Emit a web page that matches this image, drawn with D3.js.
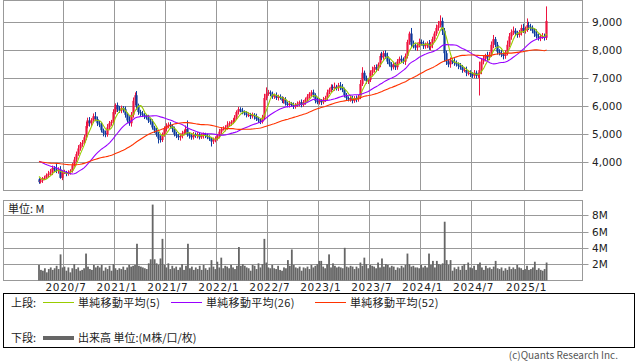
<!DOCTYPE html>
<html>
<head>
<meta charset="utf-8">
<script src="https://cdn.jsdelivr.net/npm/d3@7"></script>
<style>
  body { margin: 0; background: #fff; }
  svg { display: block; }
</style>
</head>
<body>
<script>
// weekly candles, first week of the chart
const firstWeek = "2020-04-06";

// closes before the first visible week, read back from where the 26/52 averages start
const priorCloses = [
  3900,3950,4000,4050,4000,3950,3900,3850,3900,3950,4000,4050,4100,4050,4000,3950,4000,4050,4100,4150,4100,4050,4000,4050,4100,4150,
  4200,4250,4300,4350,4300,4250,4300,4350,4400,4450,4400,4350,4400,4350,4300,4350,
  4200,3900,3500,3300,3500,3700,3600,3500,3400
];

// weekly closes (yen)
const closes = [
  3300,3350,3430,3450,3550,3600,3650,3800,3750,3700,
  3750,3450,3650,3650,3600,3650,3700,3900,4100,4300,
  4500,4650,4700,4900,5300,5500,5400,5500,5650,5550,
  5400,5350,5150,5050,5000,5250,5400,5450,5800,6050,
  5900,5850,5950,5900,5700,5500,5400,5700,6200,6400,
  6000,5800,5750,
  5700,5650,5600,5500,5450,5250,5150,5000,4850,4800,
  5000,5200,5300,5350,5300,5200,5000,4950,4900,4950,
  5050,5100,5200,5000,4950,4900,5000,4950,5000,4900,
  4950,5000,4950,4900,4850,4750,4800,4850,4950,5100,
  5200,5200,5250,5350,5400,5450,5500,5600,5800,5900,
  5850,
  5800,5750,5700,5700,5650,5700,5650,5550,5500,5450,
  5600,6300,6450,6500,6450,6350,6400,6300,6350,6300,
  6200,6250,6100,6050,6100,6050,6000,6050,6100,6150,
  6050,6150,6250,6350,6450,6500,6400,6200,6150,6200,
  6150,6250,6300,6500,6600,6700,6650,6700,6650,6750,
  6700,
  6600,6400,6300,6250,6300,6200,6300,6250,6350,6800,
  7200,7000,6900,6950,7200,7300,7400,7350,7500,7800,
  7750,7900,7800,7600,7500,7400,7500,7400,7600,7700,
  7650,7600,7800,8300,8600,8200,8150,8100,8200,8300,
  8250,8150,8200,8250,8100,8200,8400,8600,8800,
  8900,
  9050,8700,7900,7600,7500,7650,7600,7550,7500,7450,
  7400,7300,7300,7200,7200,7150,7100,7200,7100,7150,
  7300,7600,7700,7800,7750,7850,8200,8400,8200,7950,
  7900,7850,7800,7900,8200,8500,8650,8700,8600,8550,
  8650,8800,8700,8750,8900,8850,8800,8700,8600,8500,
  8450,
  8500,
  8500,8450,9050
];

// upper shadow above the body and lower shadow below it (yen)
const wickHi = [
  40,60,50,80,60,100,120,90,70,210,
  80,120,60,90,50,70,60,80,100,90,
  120,80,100,90,150,100,120,80,100,150,
  90,80,100,60,90,120,80,70,100,60,
  90,120,80,60,100,80,150,100,120,100,
  150,100,80,90,60,80,100,70,90,60,
  80,100,120,70,90,100,80,90,60,80,
  100,70,90,80,60,120,300,80,60,90,
  70,80,60,90,70,60,80,70,60,90,
  80,70,100,60,90,80,120,70,60,80,
  90,60,80,70,100,60,80,90,70,80,
  60,90,80,70,100,150,230,90,70,80,
  60,100,70,80,60,90,80,70,100,60,
  90,70,80,60,100,80,70,90,60,80,
  100,70,120,80,60,90,80,100,70,90,
  80,150,70,90,120,100,70,80,60,90,
  80,70,90,60,150,200,80,100,70,90,
  120,80,100,70,90,150,80,100,120,90,
  80,100,70,90,80,120,100,90,80,70,
  200,150,100,80,120,90,100,80,70,120,
  100,90,80,120,150,200,120,100,90,80,
  100,80,120,90,70,100,80,90,120,80,
  90,70,100,80,60,300,120,100,80,150,
  100,120,150,80,100,90,120,80,100,150,
  120,100,150,90,100,80,120,150,100,240,
  120,100,90,80,150,100,90,120,100,520
];
const wickLo = [
  60,50,80,60,40,80,60,100,90,80,
  100,30,80,60,90,70,80,60,50,80,
  60,80,90,70,100,80,120,100,90,80,
  100,90,80,120,100,80,70,90,60,80,
  100,80,90,120,100,80,90,120,100,150,
  120,100,90,80,100,70,90,100,80,100,
  80,170,90,70,80,100,80,90,120,70,
  80,100,120,90,80,70,80,100,90,80,
  70,90,80,60,100,80,70,80,180,90,
  80,70,90,80,60,90,80,70,90,80,
  70,80,90,60,80,70,90,80,100,80,
  120,70,90,80,60,90,80,70,90,80,
  80,70,90,60,80,100,70,80,90,70,
  90,80,70,100,80,60,90,80,70,100,
  80,90,70,80,100,70,90,80,60,90,
  70,90,80,100,120,90,80,100,70,80,
  90,70,100,80,90,70,80,90,100,80,
  100,90,120,80,100,90,80,100,90,80,
  120,80,100,90,70,100,80,120,90,100,
  90,80,100,120,90,80,100,90,120,80,
  100,120,90,80,100,80,150,300,120,100,
  120,90,100,80,120,90,100,80,120,90,
  100,80,90,100,80,760,150,100,90,120,
  100,80,120,90,100,80,90,120,100,80,
  90,120,100,80,100,90,120,80,100,90,
  120,100,90,120,80,100,120,90,100,80
];

// weekly volume (million shares)
const volumes = [
  1.9,1.3,1.2,1.5,1.0,1.4,1.6,1.3,1.5,1.8,
  1.4,3.2,1.6,1.7,1.2,1.6,1.0,1.5,2.0,1.4,
  1.6,1.2,1.3,1.5,3.3,1.7,1.4,1.3,1.9,1.6,
  1.8,1.6,1.9,1.2,1.6,1.4,1.8,1.2,2.0,1.5,
  1.3,1.5,1.4,1.7,1.3,1.6,1.9,1.7,1.8,1.9,
  4.5,1.8,1.7,
  1.6,1.5,1.4,2.1,2.6,9.3,2.6,2.1,1.9,2.7,
  5.1,1.9,1.6,2.1,1.4,1.8,1.5,1.7,1.3,1.6,
  2.0,1.3,1.8,4.5,1.5,1.7,1.3,1.6,1.4,1.8,
  1.3,1.9,1.5,1.3,1.6,2.5,1.7,1.4,2.3,1.6,
  2.8,1.5,1.8,1.7,1.5,1.9,1.6,1.4,1.8,4.1,
  1.8,
  2.0,1.8,1.6,1.5,1.2,1.9,1.8,1.4,2.1,1.6,
  2.0,5.1,2.2,1.6,1.5,1.9,1.5,1.4,1.8,1.3,
  1.2,1.6,1.5,2.5,1.8,3.8,1.9,1.6,1.5,1.7,
  1.2,1.6,1.5,1.7,1.4,1.9,1.6,1.8,2.0,2.4,
  2.4,1.7,1.5,2.0,3.2,1.6,2.1,1.8,1.6,1.7,
  1.6,
  1.5,4.0,1.7,1.6,1.8,1.7,1.4,1.7,1.5,2.2,
  1.8,2.8,2.0,1.5,1.9,1.8,1.7,1.5,2.2,1.6,
  2.7,1.7,2.0,1.9,1.6,1.8,1.7,1.3,1.6,1.5,
  1.8,1.6,1.9,3.3,2.0,1.7,1.8,1.6,1.6,1.5,
  1.9,1.6,1.8,1.6,3.3,1.9,2.4,1.6,2.4,
  2.0,
  1.9,2.1,7.2,2.5,1.9,2.5,1.2,1.6,1.4,1.7,
  1.3,1.8,2.0,1.3,2.2,1.6,1.5,1.8,1.3,2.0,
  2.2,1.6,1.3,1.8,1.5,1.6,1.4,1.7,2.4,1.5,
  1.4,1.6,1.2,1.5,1.3,1.7,1.4,1.6,1.4,1.9,
  1.6,1.5,1.3,1.4,1.8,1.3,1.4,1.6,2.3,1.3,
  1.5,
  1.3,
  1.2,1.4,2.2
];

const priceTicks = [4000, 5000, 6000, 7000, 8000, 9000];
const volumeTicks = [2, 4, 6, 8];
const monthLabels = ["2020/7", "2021/1", "2021/7", "2022/1", "2022/7", "2023/1", "2023/7", "2024/1", "2024/7", "2025/1"];
const maPeriods = [5, 26, 52];
const maNames = ["単純移動平均(5)", "単純移動平均(26)", "単純移動平均(52)"];
const maColors = ["#99cc00", "#9900ff", "#ff3300"];

const width = 638;
const height = 362;
const jp = '"Noto Sans CJK JP", "DejaVu Sans", sans-serif';
const num = '"DejaVu Sans", sans-serif';
const gridColor = "#999";
const upColor = "#ee1440";
const downColor = "#0e3c9e";

// build the week records
const parseDay = d3.timeParse("%Y-%m-%d");
const parseMonth = d3.timeParse("%Y/%m");
const start = parseDay(firstWeek);
const allCloses = priorCloses.concat(closes);
const n = Math.min(closes.length, wickHi.length, wickLo.length, volumes.length);
const weeks = d3.range(n).map((i) => {
  const open = allCloses[priorCloses.length + i - 1];
  const close = closes[i];
  return {
    i,
    date: d3.timeWeek.offset(start, i),
    open,
    close,
    high: Math.max(open, close) + wickHi[i],
    low: Math.min(open, close) - wickLo[i],
    volume: volumes[i]
  };
});

// simple moving average using the earlier closes too
function sma(period) {
  return weeks.map((w) => {
    const j = priorCloses.length + w.i;
    return { i: w.i, value: d3.mean(allCloses.slice(j - period + 1, j + 1)) };
  });
}

const svg = d3.select("body")
  .append("svg")
  .attr("width", width)
  .attr("height", height);

const x = d3.scaleLinear()
  .domain([0, 259])
  .range([38.5, 546.1]);

const y = d3.scaleLinear()
  .domain([3000, 9780])
  .range([190.5, 0.5]);

const yv = d3.scaleLinear()
  .domain([0, 9.8])
  .range([280.5, 200.5]);

const left = 3.5;
const right = 582.5;

// month grid: first week whose monday falls in that month
const monthWeeks = monthLabels.map((label) => {
  const m = parseMonth(label);
  const w = weeks.find((d) => d.date >= m);
  return { label, i: w.i };
});

function drawGrid(yScale, ticks, top, bottom, fmt) {
  svg.append("g")
    .selectAll("line")
    .data(monthWeeks)
    .join("line")
    .attr("x1", (d) => Math.round(x(d.i - 0.5)) + 0.5)
    .attr("x2", (d) => Math.round(x(d.i - 0.5)) + 0.5)
    .attr("y1", top)
    .attr("y2", bottom)
    .attr("stroke", gridColor);

  svg.append("g")
    .selectAll("line")
    .data(ticks)
    .join("line")
    .attr("x1", left)
    .attr("x2", right + 6)
    .attr("y1", (d) => Math.round(yScale(d)) + 0.5)
    .attr("y2", (d) => Math.round(yScale(d)) + 0.5)
    .attr("stroke", gridColor);

  svg.append("g")
    .selectAll("text")
    .data(ticks)
    .join("text")
    .attr("x", 592)
    .attr("y", (d) => Math.round(yScale(d)) + 0.5)
    .attr("dy", "0.36em")
    .style("font-family", num)
    .style("font-size", "10.5px")
    .attr("fill", "#222")
    .text(fmt);

  svg.append("rect")
    .attr("x", left)
    .attr("y", top)
    .attr("width", right - left)
    .attr("height", bottom - top)
    .attr("fill", "none")
    .attr("stroke", gridColor);
}

drawGrid(y, priceTicks, 0.5, 190.5, d3.format(","));
drawGrid(yv, volumeTicks, 200.5, 280.5, (d) => d + "M");

// candles
const candles = svg.append("g")
  .selectAll("g")
  .data(weeks)
  .join("g")
  .attr("fill", (d) => d.close >= d.open ? upColor : downColor);

candles.append("rect")
  .attr("x", (d) => Math.round(x(d.i)))
  .attr("width", 1)
  .attr("y", (d) => y(d.high))
  .attr("height", (d) => y(d.low) - y(d.high));

candles.append("rect")
  .attr("x", (d) => Math.round(x(d.i)) - 0.6)
  .attr("width", 2.2)
  .attr("y", (d) => y(Math.max(d.open, d.close)))
  .attr("height", (d) => Math.max(1, Math.abs(y(d.open) - y(d.close))));

// moving averages
const line = d3.line()
  .x((d) => x(d.i) + 0.5)
  .y((d) => y(d.value));

maPeriods.forEach((p, k) => {
  svg.append("path")
    .datum(sma(p))
    .attr("d", line)
    .attr("fill", "none")
    .attr("stroke", maColors[k])
    .attr("stroke-width", 1.1);
});

// volume bars
svg.append("g")
  .selectAll("rect")
  .data(weeks)
  .join("rect")
  .attr("x", (d) => x(d.i) - 0.4)
  .attr("width", 1.8)
  .attr("y", (d) => yv(d.volume))
  .attr("height", (d) => yv(0) - yv(d.volume))
  .attr("fill", "#666");

svg.append("text")
  .attr("x", 8)
  .attr("y", 213)
  .style("font-family", jp)
  .style("font-size", "11px")
  .attr("fill", "#222")
  .text("単位: M");

// month labels
svg.append("g")
  .selectAll("text")
  .data(monthWeeks)
  .join("text")
  .attr("x", (d) => x(d.i - 0.5) + 3)
  .attr("y", 291)
  .attr("text-anchor", "middle")
  .style("font-family", num)
  .style("font-size", "10.5px")
  .style("letter-spacing", "0.7px")
  .attr("fill", "#222")
  .text((d) => d.label);

// legend
svg.append("rect")
  .attr("x", 3.5)
  .attr("y", 293.5)
  .attr("width", 631)
  .attr("height", 54)
  .attr("fill", "none")
  .attr("stroke", "#000");

const legend = svg.append("g")
  .style("font-family", jp)
  .style("font-size", "11px")
  .attr("fill", "#222");

legend.append("text").attr("x", 11).attr("y", 307).text("上段:");
legend.append("text").attr("x", 11).attr("y", 342).text("下段:");

const legendX = [43, 171, 315];
maNames.forEach((name, k) => {
  legend.append("line")
    .attr("x1", legendX[k])
    .attr("x2", legendX[k] + 31)
    .attr("y1", 302.5)
    .attr("y2", 302.5)
    .attr("stroke", maColors[k]);
  legend.append("text")
    .attr("x", legendX[k] + 35)
    .attr("y", 307)
    .style("letter-spacing", "0.3px")
    .text(name);
});

legend.append("line")
  .attr("x1", 43)
  .attr("x2", 74)
  .attr("y1", 338)
  .attr("y2", 338)
  .attr("stroke", "#666")
  .attr("stroke-width", 4);
legend.append("text")
  .attr("x", 78)
  .attr("y", 342)
  .text("出来高 単位:(M株/口/枚)");

svg.append("text")
  .attr("x", 618)
  .attr("y", 359)
  .attr("text-anchor", "end")
  .style("font-family", jp)
  .style("font-size", "10px")
  .attr("fill", "#555")
  .text("(c)Quants Research Inc.");
</script>
</body>
</html>
